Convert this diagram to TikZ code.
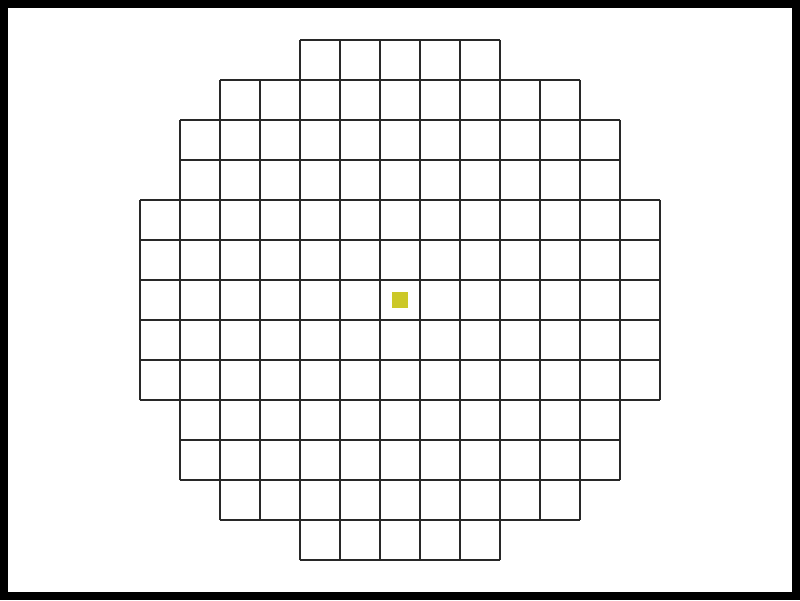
\documentclass[tikz,border=0pt]{standalone}
\usepackage{xcolor}
\usepackage{tikz}
\definecolor{gridgray}{RGB}{40,40,40}
\definecolor{markyellow}{RGB}{204,200,40}
\tikzset{
  cellgrid/.style={draw=gridgray, line width=0.04cm, line cap=square, step=1cm},
  marker/.style={fill=markyellow, draw=none},
  outerframe/.style={draw=black, line width=0.2cm}
}
\begin{document}
\begin{tikzpicture}
  % Page size and frame
  \useasboundingbox (-3.5,-1) rectangle (16.5,14);
  \draw[outerframe] (-3.4,-0.9) rectangle (16.4,13.9);

  % Draw the rows of cells (row bottom / first column / last column)
  \foreach \y/\a/\b in {12/4/9, 11/2/11, 10/1/12, 9/1/12, 8/0/13, 7/0/13, 6/0/13,
                        5/0/13, 4/0/13, 3/1/12, 2/1/12, 1/2/11, 0/4/9}
    \draw[cellgrid] (\a,\y) grid (\b,\y+1);

  % Centre marker
  \fill[marker] (6.3,6.3) rectangle (6.7,6.7);
\end{tikzpicture}
\end{document}
